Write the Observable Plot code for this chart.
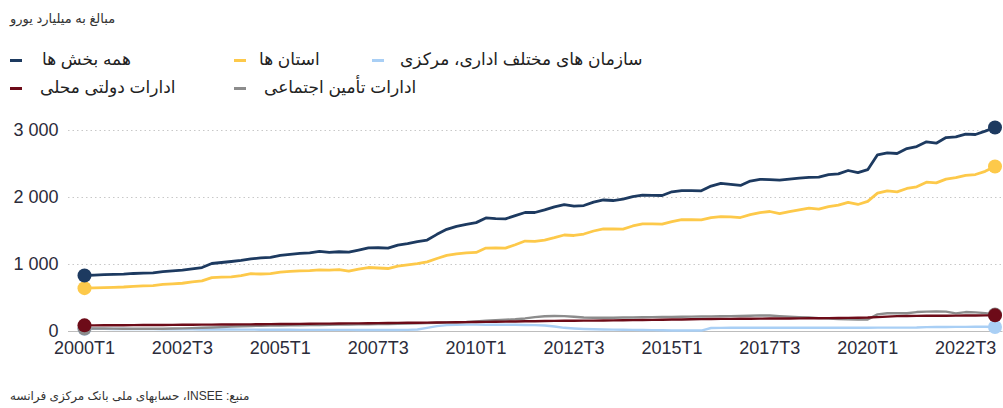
<!DOCTYPE html>
<html>
<head>
<meta charset="utf-8">
<script src="https://cdn.jsdelivr.net/npm/d3@7"></script>
<script src="https://cdn.jsdelivr.net/npm/@observablehq/plot@0.6"></script>
<style>
  body { margin: 0; background: #fff; font-family: "Liberation Sans", "DejaVu Sans", sans-serif; }
  #wrap { position: relative; width: 1003px; height: 408px; overflow: hidden; }
  .abs { position: absolute; white-space: nowrap; }
  .title { left: 10px; top: 11px; font-size: 13px; color: #333; direction: rtl; unicode-bidi: plaintext; }
  .lg { font-size: 17px; color: #222; direction: rtl; unicode-bidi: plaintext; }
  .sw { position: absolute; width: 12px; height: 3px; }
  .src { left: 10px; top: 389px; font-size: 12px; color: #333; direction: rtl; unicode-bidi: plaintext; }
  #chart { position: absolute; left: 0; top: 110px; }
</style>
</head>
<body>
<div id="wrap">
  <div class="abs title">مبالغ به میلیارد یورو</div>
  <div id="legend"></div>
  <div id="chart"></div>
  <div class="abs src">منبع: INSEE، حسابهای ملی بانک مرکزی فرانسه</div>
</div>
<script>
// Quarters 2000T1 .. 2023T2
const quarters = [];
for (let y = 2000; y <= 2023; y++) for (let q = 1; q <= 4; q++) quarters.push(y + "T" + q);
quarters.splice(94);

const tickLabels = ["2000T1","2002T3","2005T1","2007T3","2010T1","2012T3","2015T1","2017T3","2020T1","2022T3"];
const yTicks = [0, 1000, 2000, 3000];

const seriesNames = ["همه بخش ها", "استان ها", "سازمان های مختلف اداری، مرکزی", "ادارات دولتی محلی", "ادارات تأمین اجتماعی"];
const seriesColors = ["#1d3a60", "#fdc94a", "#a9cff5", "#6d0b18", "#8c8c8c"];

// همه بخش ها (all sectors)
const total = [836,842,848,852,855,866,870,875,895,905,915,935,955,1015,1030,1045,1060,1085,1098,1105,
  1135,1150,1165,1175,1195,1180,1190,1184,1215,1248,1250,1244,1290,1310,1340,1365,1450,1525,1570,1600,
  1625,1695,1685,1680,1730,1776,1776,1815,1860,1893,1870,1880,1930,1963,1955,1975,2012,2035,2032,2030,
  2085,2104,2102,2100,2170,2210,2195,2180,2245,2270,2268,2258,2275,2289,2300,2304,2340,2353,2403,2370,
  2415,2637,2667,2657,2730,2761,2831,2811,2895,2905,2945,2940,2990,3045];
// استان ها (State)
const state = [647,652,656,660,664,672,680,686,702,712,720,740,755,805,812,816,835,862,858,865,
  885,898,905,910,920,915,925,900,930,955,948,940,975,995,1012,1040,1090,1135,1160,1172,
  1180,1245,1246,1244,1295,1350,1345,1365,1400,1440,1433,1455,1500,1530,1530,1528,1575,1605,1605,1602,
  1640,1670,1668,1667,1700,1716,1710,1701,1745,1775,1791,1760,1790,1815,1840,1826,1865,1886,1928,1896,
  1943,2065,2100,2085,2135,2159,2229,2219,2275,2295,2329,2343,2390,2463];
// سازمان های مختلف اداری، مرکزی (ODAC)
const central = [40,40,39,38,37,36,35,35,34,33,32,31,30,30,29,29,28,28,27,27,
  26,26,25,25,25,24,24,24,23,23,22,22,22,24,30,55,80,95,100,102,
  102,101,100,100,100,98,95,90,75,55,45,38,33,30,28,27,25,22,20,18,
  16,15,14,14,52,54,55,55,55,56,56,56,56,56,57,57,57,57,57,57,
  57,58,58,58,58,60,66,68,68,69,69,70,70,68];
// ادارات دولتی محلی (local)
const local = [92,92,93,93,94,95,96,97,98,99,100,101,102,103,104,105,106,107,108,110,
  111,112,114,115,117,118,119,121,122,124,125,127,128,130,131,133,134,136,138,140,
  142,144,146,148,150,152,154,156,158,160,161,162,163,164,166,168,170,172,174,176,
  178,180,182,184,186,188,189,190,191,192,193,194,195,196,197,198,200,202,204,206,
  208,215,222,229,231,233,234,235,236,237,238,239,240,241];
// ادارات تأمین اجتماعی (social security)
const social = [45,45,44,43,42,42,41,41,42,44,46,50,55,60,66,72,78,82,86,88,
  90,92,94,96,98,100,102,104,106,108,110,112,115,118,122,125,130,134,138,142,
  150,160,168,175,182,195,215,228,232,230,220,210,205,205,206,208,210,212,214,216,
  218,220,222,224,226,228,230,232,236,240,238,230,222,215,208,200,192,185,182,180,
  180,255,272,275,272,290,296,298,296,270,290,285,275,255];

const seriesValues = [total, state, central, local, social];
const drawOrder = [2, 4, 3, 1, 0];

const rows = [];
drawOrder.forEach(s => seriesValues[s].forEach((v, i) => rows.push({q: quarters[i], v, s: seriesNames[s], k: s})));
const ends = [];
drawOrder.forEach(s => {
  const vals = seriesValues[s];
  ends.push({q: quarters[0], v: vals[0], s: seriesNames[s], k: s});
  ends.push({q: quarters[vals.length - 1], v: vals[vals.length - 1], s: seriesNames[s], k: s});
});

const fmt = d => d3.format(",")(d).replace(/,/g, " ");

const chart = Plot.plot({
  width: 1003,
  height: 260,
  marginLeft: 84,
  marginRight: 8.5,
  marginTop: 20,
  marginBottom: 39,
  style: { fontFamily: "'Liberation Sans', 'DejaVu Sans', sans-serif", background: "transparent" },
  x: { type: "point", domain: quarters, padding: 0 },
  y: { domain: [0, 3000] },
  color: { domain: seriesNames, range: seriesColors },
  marks: [
    Plot.ruleY([1000, 2000, 3000], { stroke: "#c8c8c8", strokeDasharray: "1.5,3", strokeWidth: 1, insetLeft: -16, insetRight: -8 }),
    Plot.ruleY([0], { stroke: "#bdbdbd", strokeWidth: 1, insetLeft: -16, insetRight: -8 }),
    Plot.axisY({ ticks: yTicks, tickSize: 0, tickPadding: 26, tickFormat: fmt, fontSize: 18, color: "#2b2b3a", label: null }),
    Plot.axisX({ ticks: tickLabels, tickSize: 0, tickPadding: 10, fontSize: 18, color: "#2b2b3a", label: null }),
    Plot.lineY(rows, { x: "q", y: "v", z: "s", stroke: "s", strokeWidth: d => d.k <= 1 ? 2.8 : 2.4 }),
    Plot.dot(ends, { x: "q", y: "v", fill: "s", r: 7, stroke: "none" })
  ]
});
document.getElementById("chart").appendChild(chart);

// Legend (HTML)
const legendPos = [
  { k: 0, sx: 10, tx: 42, y: 60 },
  { k: 1, sx: 234, tx: 259, y: 60 },
  { k: 2, sx: 372, tx: 400, y: 60 },
  { k: 3, sx: 10, tx: 40, y: 88 },
  { k: 4, sx: 234, tx: 264, y: 88 }
];
const lg = document.getElementById("legend");
legendPos.forEach(p => {
  const sw = document.createElement("div");
  sw.className = "sw";
  sw.style.left = p.sx + "px";
  sw.style.top = (p.y - 1) + "px";
  sw.style.background = seriesColors[p.k];
  lg.appendChild(sw);
  const t = document.createElement("div");
  t.className = "abs lg";
  t.style.left = p.tx + "px";
  t.style.top = (p.y - 11) + "px";
  t.textContent = seriesNames[p.k];
  lg.appendChild(t);
});
</script>
</body>
</html>
